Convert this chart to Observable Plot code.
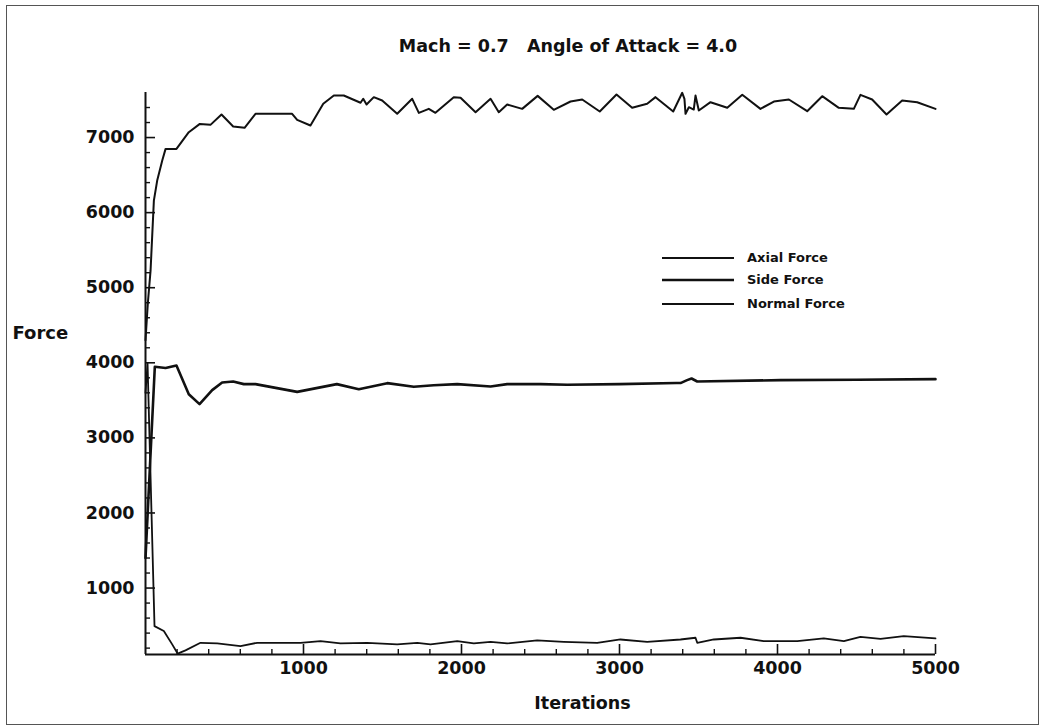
<!DOCTYPE html>
<html>
<head>
<meta charset="utf-8">
<script src="https://cdn.jsdelivr.net/npm/d3@7"></script>
<script src="https://cdn.jsdelivr.net/npm/@observablehq/plot@0.6"></script>
<style>
  html, body { margin: 0; padding: 0; background: #fff; }
  #page { position: relative; width: 1048px; height: 728px; overflow: hidden; background: #fff;
          font-family: "DejaVu Sans", sans-serif; font-weight: bold; color: #111; }
  #border { position: absolute; left: 6px; top: 5px; width: 1033px; height: 720px; border: 1px solid #555; box-sizing: border-box; }
  #title { position: absolute; left: 0; top: 35px; width: 1136px; text-align: center; font-size: 17.5px; line-height: 22px; white-space: pre; }
  #chart { position: absolute; left: 0; top: 66px; }
  .leg { position: absolute; left: 662px; height: 20px; font-size: 13px; line-height: 20px; }
  .leg svg { position: absolute; left: 0; top: 0; }
  .leg span { position: absolute; left: 85px; top: 0; white-space: nowrap; }
</style>
</head>
<body>
<div id="page">
  <div id="border"></div>
  <div id="title">Mach = 0.7   Angle of Attack = 4.0</div>
  <div id="chart"></div>
  <div id="legend"></div>
</div>
<script>
// ---- data ----
const seriesNames = ["Axial Force", "Side Force", "Normal Force"];

const axialIter = [0, 15, 32, 53, 74, 106, 127, 196, 274, 344, 411, 481, 555, 627, 696, 928, 960, 1044, 1125, 1192, 1255, 1361, 1378, 1399, 1445, 1498, 1593, 1688, 1730, 1793, 1835, 1951, 1994, 2089, 2184, 2236, 2289, 2384, 2482, 2584, 2690, 2764, 2875, 2981, 3080, 3175, 3228, 3340, 3397, 3411, 3418, 3439, 3470, 3481, 3502, 3576, 3682, 3777, 3892, 3977, 4072, 4188, 4283, 4388, 4483, 4525, 4599, 4690, 4789, 4884, 5000];
const axialForce = [4300, 4800, 5227, 6160, 6427, 6693, 6849, 6849, 7071, 7182, 7169, 7307, 7147, 7129, 7316, 7316, 7236, 7160, 7449, 7560, 7560, 7463, 7516, 7440, 7538, 7493, 7316, 7516, 7329, 7382, 7329, 7538, 7529, 7338, 7516, 7338, 7440, 7382, 7555, 7369, 7480, 7507, 7347, 7573, 7396, 7449, 7538, 7347, 7596, 7516, 7316, 7404, 7373, 7560, 7360, 7471, 7396, 7569, 7382, 7480, 7507, 7351, 7551, 7396, 7382, 7569, 7507, 7307, 7493, 7471, 7382];

const sideIter = [0, 30, 59, 127, 196, 274, 342, 422, 485, 555, 622, 696, 960, 1211, 1350, 1530, 1698, 1824, 1973, 2184, 2289, 2500, 2669, 3000, 3360, 3386, 3428, 3456, 3492, 4019, 4500, 5000];
const sideForce = [1400, 2700, 3947, 3930, 3964, 3582, 3449, 3636, 3738, 3751, 3716, 3716, 3613, 3716, 3649, 3729, 3680, 3702, 3716, 3685, 3716, 3716, 3707, 3716, 3730, 3730, 3769, 3791, 3751, 3769, 3775, 3782];

const normalIter = [0, 13, 57, 116, 169, 204, 253, 348, 454, 601, 707, 981, 1108, 1234, 1403, 1593, 1720, 1804, 1973, 2078, 2184, 2289, 2479, 2647, 2859, 3006, 3175, 3386, 3481, 3492, 3597, 3766, 3913, 4125, 4293, 4420, 4525, 4652, 4799, 5000];
const normalForce = [3600, 3990, 493, 427, 250, 126, 170, 271, 262, 227, 271, 271, 293, 262, 271, 250, 271, 250, 293, 262, 284, 262, 302, 284, 271, 315, 284, 315, 338, 271, 315, 338, 293, 293, 329, 293, 349, 324, 360, 329];

const xMajorTicks = [1000, 2000, 3000, 4000, 5000];
const xMinorTicks = [200, 400, 600, 800, 1200, 1400, 1600, 1800, 2200, 2400, 2600, 2800, 3200, 3400, 3600, 3800, 4200, 4400, 4600, 4800];
const yMajorTicks = [1000, 2000, 3000, 4000, 5000, 6000, 7000];
const yMinorTicks = [200, 400, 600, 800, 1200, 1400, 1600, 1800, 2200, 2400, 2600, 2800, 3200, 3400, 3600, 3800, 4200, 4400, 4600, 4800, 5200, 5400, 5600, 5800, 6200, 6400, 6600, 6800, 7200, 7400];

const xDomain = [0, 5000];
const yDomain = [115, 7600];

// ---- build tables ----
const rows = (iters, vals, name) => iters.map((it, i) => ({iter: it, force: vals[i], series: name}));
const axial = rows(axialIter, axialForce, seriesNames[0]);
const side = rows(sideIter, sideForce, seriesNames[1]);
const normal = rows(normalIter, normalForce, seriesNames[2]);

const strokeWidths = [2, 2.6, 1.8];
const ink = "#111";

const W = 1048, H = 662, ML = 145, MR = 113, MT = 26, MB = 74;
const frameW = W - ML - MR, frameH = H - MT - MB;
const majorLen = 10, minorLen = 5;
const fmt = d3.format("d");

const chart = Plot.plot({
  width: W,
  height: H,
  marginLeft: ML,
  marginRight: MR,
  marginTop: MT,
  marginBottom: MB,
  style: {fontFamily: "DejaVu Sans, sans-serif", fontWeight: "bold", color: ink, background: "transparent"},
  x: {domain: xDomain},
  y: {domain: yDomain},
  marks: [
    // inward ticks
    Plot.tickX(xMinorTicks, {x: d => d, insetTop: frameH - minorLen, stroke: ink, strokeWidth: 1.4}),
    Plot.tickX(xMajorTicks, {x: d => d, insetTop: frameH - majorLen, stroke: ink, strokeWidth: 1.6}),
    Plot.tickY(yMinorTicks, {y: d => d, insetRight: frameW - minorLen, stroke: ink, strokeWidth: 1.4}),
    Plot.tickY(yMajorTicks, {y: d => d, insetRight: frameW - majorLen, stroke: ink, strokeWidth: 1.6}),
    // tick labels
    Plot.axisX(xMajorTicks, {anchor: "bottom", tickSize: 0, tickPadding: 14, lineAnchor: "middle", tickFormat: fmt, fontSize: 17.5, fontWeight: "bold", label: null}),
    Plot.axisY(yMajorTicks, {anchor: "left", tickSize: 0, tickPadding: 11, tickFormat: fmt, fontSize: 17.5, fontWeight: "bold", label: null}),
    // axis lines
    Plot.ruleX([xDomain[0]], {stroke: ink, strokeWidth: 2}),
    Plot.ruleY([yDomain[0]], {stroke: ink, strokeWidth: 2}),
    // series
    Plot.line(axial, {x: "iter", y: "force", stroke: ink, strokeWidth: strokeWidths[0], strokeLinejoin: "round"}),
    Plot.line(side, {x: "iter", y: "force", stroke: ink, strokeWidth: strokeWidths[1], strokeLinejoin: "round"}),
    Plot.line(normal, {x: "iter", y: "force", stroke: ink, strokeWidth: strokeWidths[2], strokeLinejoin: "round"}),
    // axis titles
    Plot.text(["Force"], {text: d => d, frameAnchor: "left", textAnchor: "start", dx: -133, dy: -40, fontSize: 18, fontWeight: "bold", fill: ink}),
    Plot.text(["Iterations"], {text: d => d, frameAnchor: "bottom", lineAnchor: "middle", dx: 42, dy: 49, fontSize: 17.5, fontWeight: "bold", fill: ink})
  ]
});
document.getElementById("chart").appendChild(chart);

// ---- legend (HTML overlay) ----
const legendTops = [248, 270, 294];
const legend = document.getElementById("legend");
seriesNames.forEach((name, i) => {
  const d = document.createElement("div");
  d.className = "leg";
  d.style.top = legendTops[i] + "px";
  d.innerHTML = `<svg width="80" height="20"><line x1="0" x2="72" y1="10" y2="10" stroke="${ink}" stroke-width="${strokeWidths[i]}"></line></svg><span>${name}</span>`;
  legend.appendChild(d);
});
</script>
</body>
</html>
